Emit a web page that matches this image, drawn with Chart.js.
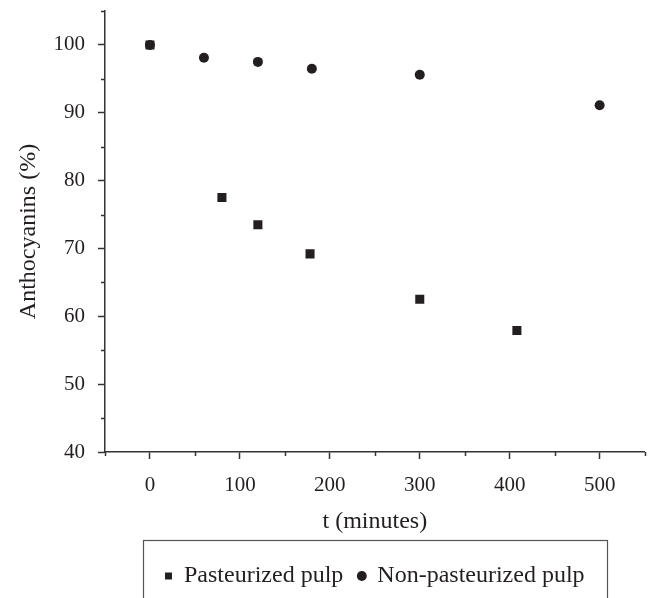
<!DOCTYPE html>
<html>
<head>
<meta charset="utf-8">
<script src="https://cdn.jsdelivr.net/npm/chart.js@4.4.1/dist/chart.umd.min.js"></script>
<style>
  html, body { margin: 0; padding: 0; background: #fff; }
</style>
</head>
<body>
<canvas id="chart" width="651" height="598"></canvas>
<script>
// data
const pastTime = [0, 80, 120, 178, 300, 408];
const pastValues = [100, 77.5, 73.5, 69.2, 62.5, 57.9];
const rawTime = [0, 60, 120, 180, 300, 500];
const rawValues = [100, 98.1, 97.5, 96.5, 95.6, 91.1];

const xTicks = [0, 100, 200, 300, 400, 500];
const yTicks = [40, 50, 60, 70, 80, 90, 100];
const xMinor = [-50, 50, 150, 250, 350, 450, 550];
const yMinor = [45, 55, 65, 75, 85, 95, 105];

const ink = "#231f20";
const family = "'Liberation Serif', 'DejaVu Serif', serif";
const tickFont = { family: family, size: 21 };
const textFont = { family: family, size: 24 };

const toPoints = (xs, ys) => xs.map((x, i) => ({ x: x, y: ys[i] }));

// short minor ticks + frame round the legend
const extras = {
  id: "extras",
  afterDraw(chart) {
    const { ctx, chartArea: a, legend } = chart;
    const x = chart.scales.x, y = chart.scales.y;
    ctx.save();
    ctx.strokeStyle = "#333";
    ctx.lineWidth = 1.5;
    ctx.beginPath();
    xMinor.forEach((v) => {
      const px = Math.round(x.getPixelForValue(v)) + 0.5;
      ctx.moveTo(px, a.bottom);
      ctx.lineTo(px, a.bottom + 4);
    });
    yMinor.forEach((v) => {
      const py = Math.round(y.getPixelForValue(v)) + 0.5;
      ctx.moveTo(a.left, py);
      ctx.lineTo(a.left - 4, py);
    });
    ctx.stroke();

    const boxes = legend.legendHitBoxes;
    const last = boxes[boxes.length - 1];
    const l = boxes[0].left - 22;
    const r = last.left + last.width + 22;
    ctx.lineWidth = 1.2;
    ctx.strokeStyle = "#555";
    ctx.strokeRect(Math.round(l) + 0.5, 540.5, Math.round(r - l), 100);
    ctx.restore();
  },
};

new Chart(document.getElementById("chart").getContext("2d"), {
  type: "scatter",
  data: {
    datasets: [
      {
        label: "Pasteurized pulp",
        data: toPoints(pastTime, pastValues),
        pointStyle: "rect",
        pointRadius: 6.4,
        backgroundColor: ink,
        borderColor: ink,
        borderWidth: 0,
      },
      {
        label: "Non-pasteurized pulp",
        data: toPoints(rawTime, rawValues),
        pointStyle: "circle",
        pointRadius: 5,
        backgroundColor: ink,
        borderColor: ink,
        borderWidth: 0,
      },
    ],
  },
  options: {
    responsive: false,
    animation: false,
    layout: { padding: { top: 11, right: 6, left: 0, bottom: 0 } },
    plugins: {
      tooltip: { enabled: false },
      legend: {
        position: "bottom",
        fullSize: false,
        labels: {
          usePointStyle: true,
          boxWidth: 7,
          boxHeight: 7,
          padding: 15,
          color: ink,
          font: textFont,
        },
      },
    },
    scales: {
      x: {
        type: "linear",
        min: -50,
        max: 550,
        afterBuildTicks: (s) => { s.ticks = xTicks.map((v) => ({ value: v })); },
        afterFit: (s) => { s.height = 97; },
        border: { color: "#333", width: 1.5 },
        grid: { drawOnChartArea: false, tickLength: 7, tickColor: "#333", tickWidth: 1.5 },
        ticks: { color: ink, font: tickFont, padding: 14, maxRotation: 0 },
        title: {
          display: true,
          text: "t (minutes)",
          color: ink,
          font: textFont,
          padding: { top: 0, bottom: 13 },
        },
      },
      y: {
        min: 40,
        max: 105,
        afterBuildTicks: (s) => { s.ticks = yTicks.map((v) => ({ value: v })); },
        afterFit: (s) => {
          s.width = 105;
          s.paddingTop = 0;
          s.paddingBottom = 0;
        },
        border: { color: "#333", width: 1.5 },
        grid: { drawOnChartArea: false, tickLength: 7, tickColor: "#333", tickWidth: 1.5 },
        ticks: { color: ink, font: tickFont, padding: 13 },
        title: {
          display: true,
          text: "Anthocyanins (%)",
          color: ink,
          font: textFont,
          padding: { top: 14, bottom: 0 },
        },
      },
    },
  },
  plugins: [extras],
});
</script>
</body>
</html>
